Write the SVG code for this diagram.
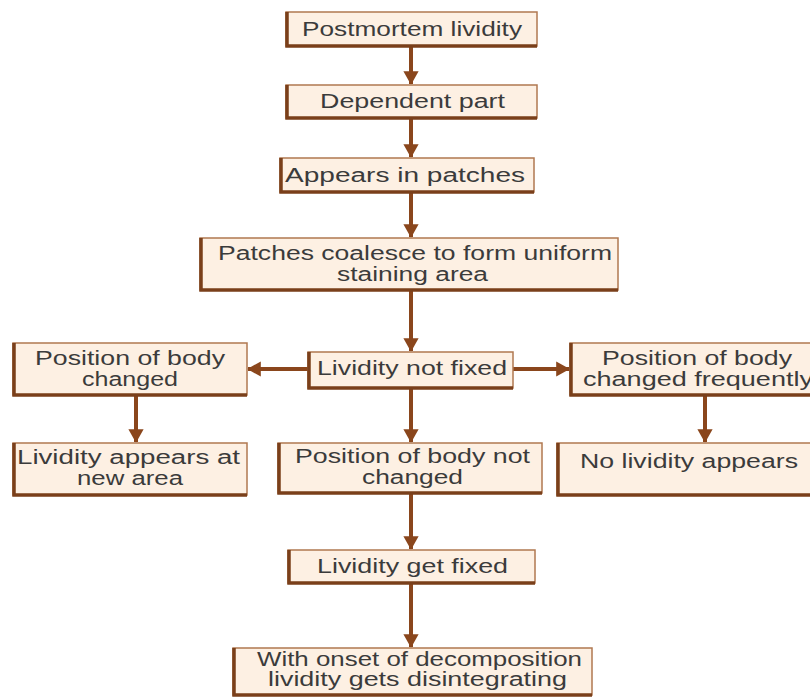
<svg xmlns="http://www.w3.org/2000/svg" width="810" height="698" viewBox="0 0 810 698">
<defs>
<style>
.box{fill:#fdf0e3;stroke:#b07850;stroke-width:1.5}
.edge{fill:none;stroke:#7a3f1a;stroke-width:3.5}
.t{font-family:"Liberation Sans",Arial,sans-serif;font-size:20px;fill:#3b3b3b;text-anchor:start}
.c{stroke:#8a461c;stroke-width:4;fill:none}
</style>
<marker id="ah" markerWidth="4" markerHeight="4" refX="3.2" refY="2" orient="auto" markerUnits="strokeWidth">
<path d="M0,0.1 L3.4,2 L0,3.9 Z" fill="#8a461c"/>
</marker>
</defs>
<rect width="810" height="698" fill="#ffffff"/>
<g id="connectors">
<line class="c" x1="411" y1="46" x2="411" y2="84" marker-end="url(#ah)"/>
<line class="c" x1="411" y1="118" x2="411" y2="157" marker-end="url(#ah)"/>
<line class="c" x1="411" y1="192" x2="411" y2="237" marker-end="url(#ah)"/>
<line class="c" x1="411" y1="290" x2="411" y2="351" marker-end="url(#ah)"/>
<line class="c" x1="308" y1="369" x2="248" y2="369" marker-end="url(#ah)"/>
<line class="c" x1="513" y1="369" x2="569" y2="369" marker-end="url(#ah)"/>
<line class="c" x1="136" y1="395" x2="136" y2="442" marker-end="url(#ah)"/>
<line class="c" x1="705" y1="395" x2="705" y2="442" marker-end="url(#ah)"/>
<line class="c" x1="411" y1="388" x2="411" y2="442" marker-end="url(#ah)"/>
<line class="c" x1="411" y1="493" x2="411" y2="549" marker-end="url(#ah)"/>
<line class="c" x1="411" y1="583" x2="411" y2="647" marker-end="url(#ah)"/>
</g>
<g id="n1">
<rect class="box" x="286" y="12" width="251" height="34"/>
<path class="edge" d="M287,12 V46 H537"/>
<text class="t" x="302" y="36" textLength="220" lengthAdjust="spacingAndGlyphs">Postmortem lividity</text>
</g>
<g id="n2">
<rect class="box" x="286" y="85" width="251" height="33"/>
<path class="edge" d="M287,85 V118 H537"/>
<text class="t" x="320" y="108" textLength="185" lengthAdjust="spacingAndGlyphs">Dependent part</text>
</g>
<g id="n3">
<rect class="box" x="280" y="158" width="254" height="34"/>
<path class="edge" d="M281,158 V192 H534"/>
<text class="t" x="285" y="182" textLength="240" lengthAdjust="spacingAndGlyphs">Appears in patches</text>
</g>
<g id="n4">
<rect class="box" x="200" y="238" width="418" height="52"/>
<path class="edge" d="M201,238 V290 H618"/>
<text class="t" x="218" y="260" textLength="394" lengthAdjust="spacingAndGlyphs">Patches coalesce to form uniform</text>
<text class="t" x="337" y="281" textLength="151" lengthAdjust="spacingAndGlyphs">staining area</text>
</g>
<g id="n5">
<rect class="box" x="308" y="352" width="205" height="36"/>
<path class="edge" d="M309,352 V388 H513"/>
<text class="t" x="317" y="375" textLength="190" lengthAdjust="spacingAndGlyphs">Lividity not fixed</text>
</g>
<g id="n6">
<rect class="box" x="13" y="343" width="234" height="52"/>
<path class="edge" d="M14,343 V395 H247"/>
<text class="t" x="35" y="365" textLength="190" lengthAdjust="spacingAndGlyphs">Position of body</text>
<text class="t" x="82" y="386" textLength="96" lengthAdjust="spacingAndGlyphs">changed</text>
</g>
<g id="n7">
<rect class="box" x="570" y="343" width="245" height="52"/>
<path class="edge" d="M571,343 V395 H812"/>
<text class="t" x="602" y="365" textLength="190" lengthAdjust="spacingAndGlyphs">Position of body</text>
<text class="t" x="583" y="386" textLength="230" lengthAdjust="spacingAndGlyphs">changed frequently</text>
</g>
<g id="n8">
<rect class="box" x="13" y="443" width="234" height="52"/>
<path class="edge" d="M14,443 V495 H247"/>
<text class="t" x="17" y="464" textLength="223" lengthAdjust="spacingAndGlyphs">Lividity appears at</text>
<text class="t" x="77" y="485" textLength="106" lengthAdjust="spacingAndGlyphs">new area</text>
</g>
<g id="n9">
<rect class="box" x="278" y="443" width="264" height="50"/>
<path class="edge" d="M279,443 V493 H542"/>
<text class="t" x="295" y="463" textLength="235" lengthAdjust="spacingAndGlyphs">Position of body not</text>
<text class="t" x="362" y="484" textLength="101" lengthAdjust="spacingAndGlyphs">changed</text>
</g>
<g id="n10">
<rect class="box" x="557" y="443" width="258" height="52"/>
<path class="edge" d="M558,443 V495 H812"/>
<text class="t" x="580" y="468" textLength="218" lengthAdjust="spacingAndGlyphs">No lividity appears</text>
</g>
<g id="n11">
<rect class="box" x="288" y="550" width="247" height="33"/>
<path class="edge" d="M289,550 V583 H535"/>
<text class="t" x="317" y="573" textLength="191" lengthAdjust="spacingAndGlyphs">Lividity get fixed</text>
</g>
<g id="n12">
<rect class="box" x="233" y="648" width="359" height="47"/>
<path class="edge" d="M234,648 V695 H592"/>
<text class="t" x="257" y="666" textLength="325" lengthAdjust="spacingAndGlyphs">With onset of decomposition</text>
<text class="t" x="268" y="686" textLength="299" lengthAdjust="spacingAndGlyphs">lividity gets disintegrating</text>
</g>
</svg>
